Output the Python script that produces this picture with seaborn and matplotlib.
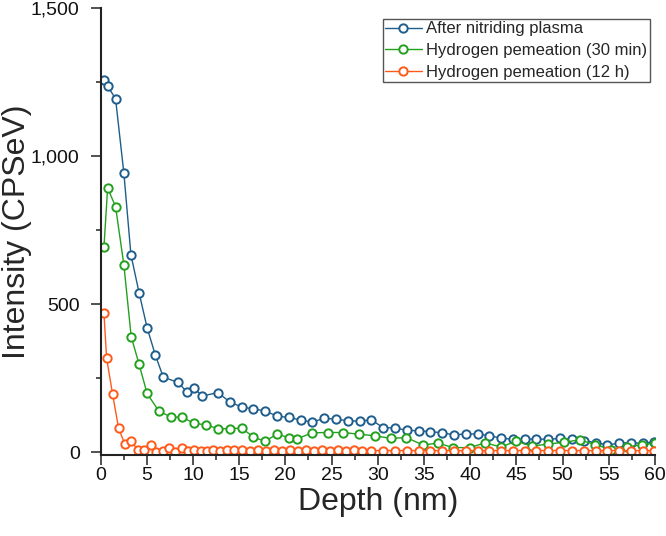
import matplotlib
matplotlib.use("Agg")
import matplotlib.pyplot as plt
import pandas as pd
import seaborn as sns
from matplotlib.ticker import MultipleLocator, FuncFormatter

# ---- data ----
blue_x = [0.37, 0.80, 1.63, 2.53, 3.29, 4.19, 5.05, 5.92, 6.79, 8.41, 9.32, 10.13, 11.01,
          12.69, 14.00, 15.27, 16.53, 17.79, 19.12, 20.39, 21.66, 22.91, 24.20, 25.48,
          26.74, 28.04, 29.30, 30.60, 31.86, 33.13, 34.41, 35.68, 37.00, 38.25, 39.51,
          40.81, 42.06, 43.33, 44.60, 45.90, 47.15, 48.45, 49.72, 51.02, 52.32, 53.59,
          54.86, 56.13, 57.40, 58.65, 59.91]
blue_y = [1257, 1235, 1193, 942, 667, 536, 419, 329, 253, 235, 204, 216, 189,
          201, 169, 152, 146, 139, 121, 117, 108, 101, 114, 111,
          106, 104, 109, 82, 82, 73, 72, 69, 65, 58, 61,
          61, 55, 47, 43, 43, 44, 43, 46, 44, 38, 32,
          24, 30, 32, 29, 35]

green_x = [0.37, 0.77, 1.63, 2.53, 3.32, 4.18, 5.04, 6.34, 7.62, 8.86, 10.14, 11.39,
           12.71, 14.00, 15.27, 16.53, 17.79, 19.12, 20.36, 21.22, 22.91, 24.58, 26.27,
           27.99, 29.72, 31.41, 33.11, 34.86, 36.55, 38.14, 39.93, 41.63, 43.33, 44.99,
           46.66, 48.45, 50.12, 51.85, 53.56, 55.27, 56.94, 58.63, 59.97]
green_y = [691, 892, 829, 632, 390, 296, 198, 137, 119, 117, 97, 92,
           79, 79, 81, 51, 36, 61, 48, 44, 65, 66, 66,
           60, 55, 46, 49, 24, 30, 15, 15, 31, 17, 37,
           20, 27, 33, 41, 25, 8, 17, 25, 30]

orange_x = [0.37, 0.66, 1.31, 1.96, 2.64, 3.32, 4.02, 4.72, 5.42, 6.03, 6.75, 7.42, 8.11,
            8.81, 9.46, 10.14, 10.83, 11.48, 12.20, 12.92, 13.68, 14.49, 15.30, 16.17,
            17.07, 17.90, 18.80, 19.66, 20.50, 21.40, 22.23, 23.10, 23.93, 24.83, 25.66,
            26.56, 27.42, 28.26, 29.32, 30.60, 31.86, 33.13, 34.41, 35.68, 37.00, 38.25,
            39.51, 40.81, 42.06, 43.33, 44.60, 45.90, 47.15, 48.45, 49.72, 51.02, 52.32,
            53.59, 54.86, 56.13, 57.40, 58.65, 59.91]
orange_y = [471, 317, 195, 80, 26, 38, 7, 8, 24, 1, 4, 13, 1,
            15, 2, 7, 2, 2, 7, 2, 6, 6, 6, 5,
            7, 4, 6, 5, 6, 5, 6, 5, 6, 5, 6,
            5, 6, 5, 5, 5, 5, 5, 5, 5, 5, 5,
            5, 5, 5, 5, 5, 5, 5, 5, 5, 5, 5,
            5, 5, 5, 5, 5, 5]

labels = ["After nitriding plasma", "Hydrogen pemeation (30 min)", "Hydrogen pemeation (12 h)"]
colors = ["#1e5d8c", "#22a01e", "#ff5a1a"]

series = [(blue_x, blue_y), (green_x, green_y), (orange_x, orange_y)]

sns.set_theme(style="ticks")
plt.rcParams['font.family'] = ['Liberation Sans', 'DejaVu Sans']

fig = plt.figure(figsize=(6.66, 5.36), dpi=100)
ax = fig.add_axes([100.5 / 666, 1 - 455 / 536, (655 - 100.5) / 666, (455 - 8) / 536])

for (xs, ys), lab, c in zip(series, labels, colors):
    df = pd.DataFrame({"Depth": xs, "Intensity": ys})
    sns.lineplot(data=df, x="Depth", y="Intensity", ax=ax, color=c, label=lab,
                 marker="o", markersize=6.0, markerfacecolor="white",
                 markeredgecolor=c, markeredgewidth=1.4, linewidth=1.0,
                 estimator=None, sort=False)

ax.set_xlim(0, 60)
ax.set_ylim(-10, 1500)
ax.xaxis.set_major_locator(MultipleLocator(5))
ax.xaxis.set_minor_locator(MultipleLocator(2.5))
ax.yaxis.set_major_locator(MultipleLocator(500))
ax.yaxis.set_minor_locator(MultipleLocator(250))
ax.yaxis.set_major_formatter(FuncFormatter(lambda v, p: f"{int(v):,}"))

sns.despine(ax=ax)
for s in ("left", "bottom"):
    ax.spines[s].set_linewidth(1.5)
    ax.spines[s].set_color("#222222")
ax.tick_params(which="major", direction="out", length=7, width=1.1, labelsize=14,
               color="#222222", labelcolor="#111111")
ax.tick_params(which="minor", direction="out", length=3.5, width=1.1, color="#222222")
ax.tick_params(axis="x", which="major", pad=1.5)
ax.tick_params(axis="y", which="major", pad=8)

ax.set_xlabel("Depth (nm)", fontsize=23)
ax.set_ylabel("Intensity (CPSeV)", fontsize=23)
ax.xaxis.label.set_va("center")
ax.yaxis.label.set_va("center")
ax.xaxis.set_label_coords(0.5, (455 - 502) / 447)
ax.yaxis.set_label_coords((17 - 100.5) / 554.5, 0.5)

leg = ax.legend(loc="upper right", bbox_to_anchor=(649.5 / 666, 1 - 19 / 536),
                bbox_transform=fig.transFigure, borderaxespad=0, fontsize=12,
                frameon=True, fancybox=False, edgecolor="#555555", framealpha=1,
                handlelength=2.2, handletextpad=0.25, borderpad=0.15, labelspacing=0.4,
                numpoints=1)
leg.get_frame().set_linewidth(1.0)

fig.savefig("out.png", dpi=100)
